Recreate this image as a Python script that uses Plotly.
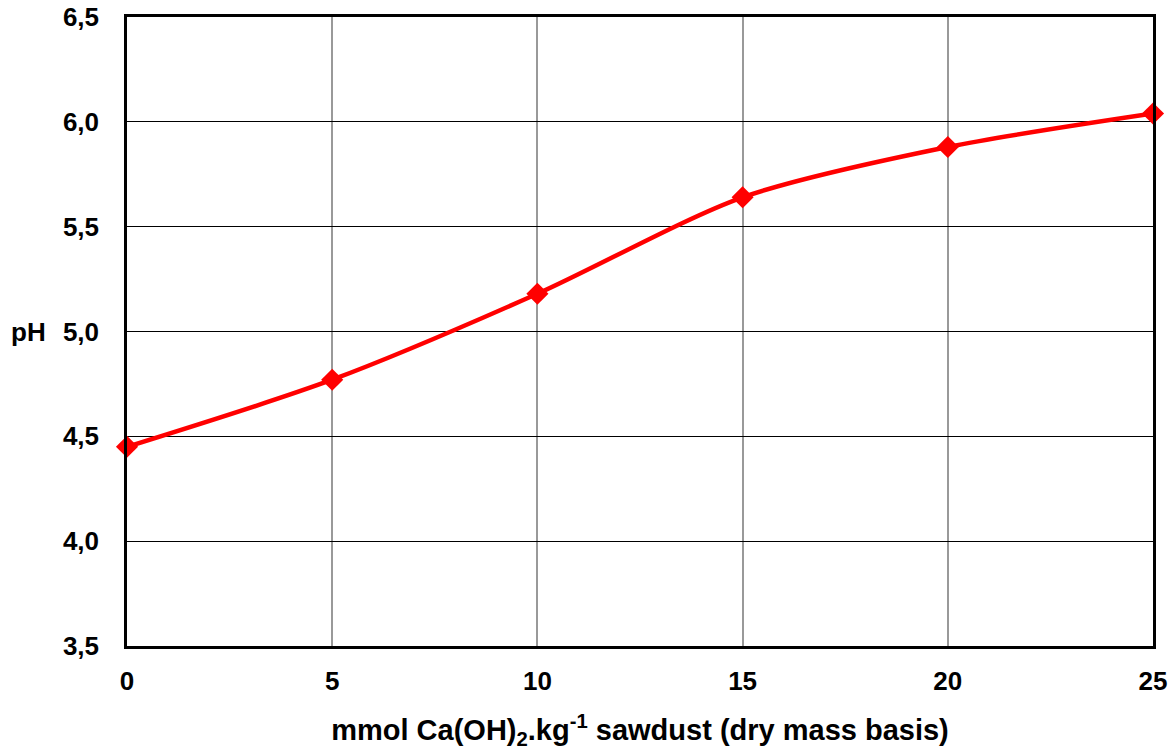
import plotly.graph_objects as go

dose = [0, 5, 10, 15, 20, 25]
ph = [4.45, 4.77, 5.18, 5.64, 5.88, 6.04]
y_ticks = [3.5, 4.0, 4.5, 5.0, 5.5, 6.0, 6.5]
x_ticks = [0, 5, 10, 15, 20, 25]

FAM = "Liberation Sans, Arial, sans-serif"
tickfont = dict(family=FAM, size=26, color="black", weight="bold")

fig = go.Figure()
fig.add_trace(go.Scatter(
    x=dose, y=ph, mode="lines+markers",
    line=dict(color="#ff0000", width=4.5, shape="spline", smoothing=0.8),
    marker=dict(symbol="diamond", size=17, color="#ff0000"),
    cliponaxis=False, showlegend=False,
))

fig.update_layout(
    width=1172, height=750,
    margin=dict(l=127, r=19, t=17, b=104),
    paper_bgcolor="white", plot_bgcolor="white",
    separators=", ",
    font=dict(family=FAM, size=22, color="black"),
    xaxis=dict(
        range=[0, 25], tickvals=x_ticks, showgrid=True, gridcolor="#999999", gridwidth=1.5,
        showline=True, linecolor="black", linewidth=2.5, mirror=True, zeroline=False,
        ticks="outside", ticklen=10, tickcolor="rgba(0,0,0,0)", tickfont=tickfont,
        automargin=False,
        title=dict(text="mmol Ca(OH)<sub>2</sub>.kg<sup>-1</sup> sawdust (dry mass basis)",
                   font=dict(size=29, family=FAM, color="black", weight="bold"), standoff=37),
    ),
    yaxis=dict(
        range=[3.5, 6.5], tickvals=y_ticks, tickformat=".1f", showgrid=True, gridcolor="black", gridwidth=1,
        showline=True, linecolor="black", linewidth=2.5, mirror=True, zeroline=False,
        ticks="outside", ticklen=20, tickcolor="rgba(0,0,0,0)", tickfont=tickfont,
        automargin=False,
    ),
    annotations=[dict(
        text="pH", xref="paper", yref="paper", x=-0.115, y=0.5,
        xanchor="left", yanchor="middle", showarrow=False,
        font=dict(size=26, family=FAM, color="black", weight="bold"),
    )],
)

fig.write_html("out.html")
